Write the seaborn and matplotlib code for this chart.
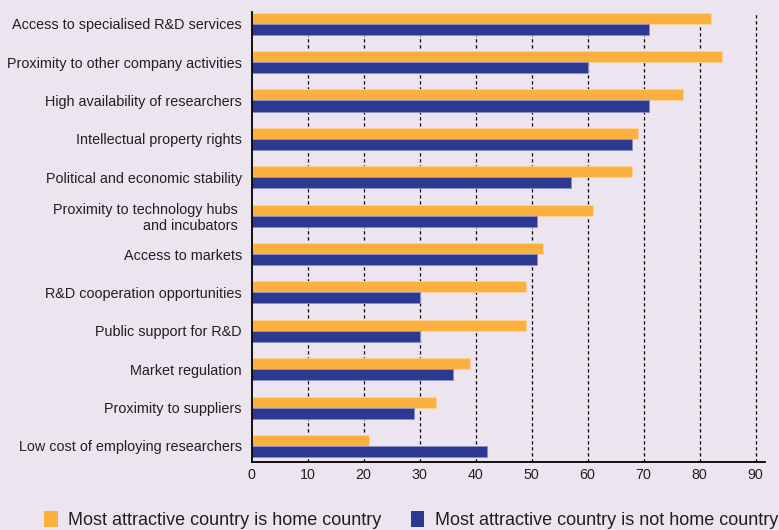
import matplotlib
matplotlib.use("Agg")
import matplotlib.pyplot as plt
import matplotlib.colors as mcolors
from matplotlib.patches import Patch
import seaborn as sns
import pandas as pd

factors = [
    "Access to specialised R&D services",
    "Proximity to other company activities",
    "High availability of researchers",
    "Intellectual property rights",
    "Political and economic stability",
    "Proximity to technology hubs \nand incubators ",
    "Access to markets",
    "R&D cooperation opportunities",
    "Public support for R&D",
    "Market regulation",
    "Proximity to suppliers",
    "Low cost of employing researchers",
]
home_country = [82, 84, 77, 69, 68, 61, 52, 49, 49, 39, 33, 21]
not_home_country = [71, 60, 71, 68, 57, 51, 51, 30, 30, 36, 29, 42]
series_names = ["Most attractive country is home country",
                "Most attractive country is not home country"]
x_ticks = [0, 10, 20, 30, 40, 50, 60, 70, 80, 90]

ORANGE = "#FBB040"
NAVY = "#2B3990"
BG = "#ECE5F0"
INK = "#231F20"

df = pd.DataFrame({
    "factor": factors * 2,
    "group": [series_names[0]] * len(factors) + [series_names[1]] * len(factors),
    "value": home_country + not_home_country,
})

sns.set_theme(style="white")
plt.rcParams["font.family"] = ["Liberation Sans", "DejaVu Sans"]

fig = plt.figure(figsize=(7.79, 5.30), dpi=100, facecolor=BG)
ax = fig.add_axes([251.5 / 779, 1 - 461.7 / 530, (764.5 - 251.5) / 779, (461.7 - 12) / 530])
ax.set_facecolor(BG)

sns.barplot(data=df, x="value", y="factor", hue="group", order=factors,
            hue_order=series_names, palette=[ORANGE, NAVY], orient="h",
            width=0.575, dodge=True, legend=False, ax=ax, saturation=1)

# soft light outline around each bar
for p in ax.patches:
    fc = mcolors.to_rgb(p.get_facecolor())
    ec = tuple(0.55 * c + 0.45 * 1.0 for c in fc)
    p.set_edgecolor(ec)
    p.set_linewidth(0.7)

ax.set_xlim(0, 91.6)
ax.set_ylim(11.41, -0.305)
ax.set_xticks(x_ticks)
ax.set_xticklabels([str(t) for t in x_ticks], fontsize=10.3, color=INK)
ax.tick_params(axis="x", length=0, pad=4.5)
ax.tick_params(axis="y", length=0, pad=7, labelsize=10.4, labelcolor=INK)
for lbl in ax.get_yticklabels():
    lbl.set_multialignment("right")
ax.set_xlabel("")
ax.set_ylabel("")

# dashed vertical guides
for t in x_ticks[1:]:
    ax.axvline(t, color="black", linewidth=0.9, linestyle=(0, (2.6, 2.2)), zorder=0)
ax.set_axisbelow(True)

for side in ["top", "right"]:
    ax.spines[side].set_visible(False)
for side in ["left", "bottom"]:
    ax.spines[side].set_color("black")
    ax.spines[side].set_linewidth(1.3)

handles = [Patch(facecolor=ORANGE, edgecolor="none"), Patch(facecolor=NAVY, edgecolor="none")]
fig.legend(handles, series_names, loc="lower left", bbox_to_anchor=(44 / 779, 0.001),
           ncol=2, frameon=False, borderpad=0, borderaxespad=0,
           handlelength=0.75, handleheight=0.95, handletextpad=0.6, columnspacing=1.6,
           prop={"family": ["Liberation Sans", "DejaVu Sans"], "size": 13},
           labelcolor=INK)

fig.savefig("out.png", dpi=100, facecolor=BG)
